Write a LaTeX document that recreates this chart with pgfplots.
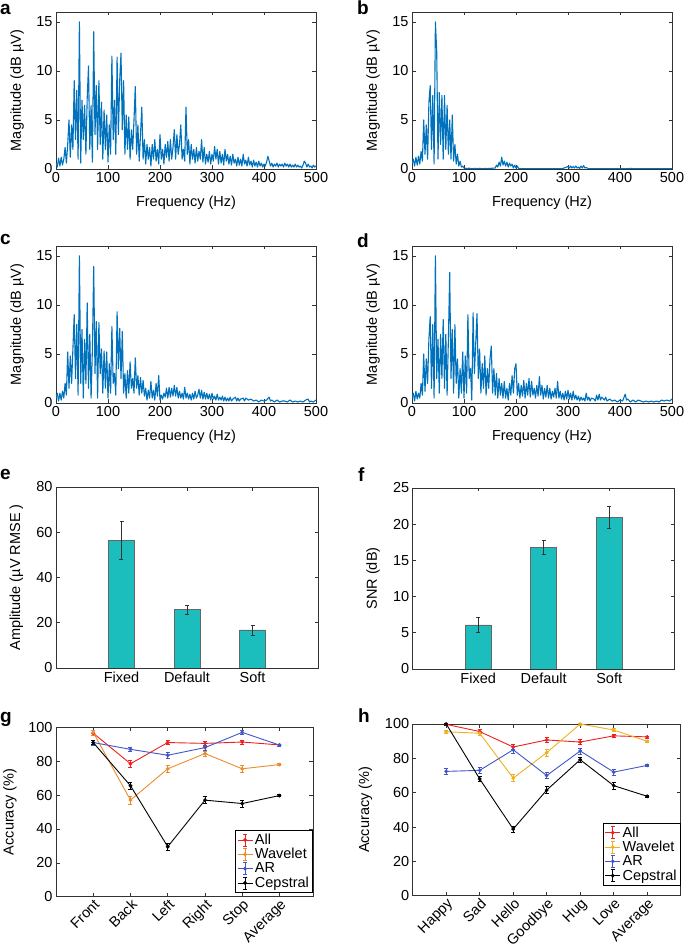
\documentclass[border=0pt]{standalone}
\usepackage{fontspec}
\setmainfont{Liberation Sans}
\usepackage{pgfplots}
\pgfplotsset{compat=1.18}

\definecolor{mblue}{RGB}{0,114,189}
\definecolor{barc}{RGB}{28,189,189}
\definecolor{cAll}{RGB}{240,30,30}
\definecolor{cWavG}{RGB}{236,140,45}
\definecolor{cWavH}{RGB}{237,177,32}
\definecolor{cAR}{RGB}{65,85,200}

\pgfplotsset{
  panel/.style={
    scale only axis,
    font=\fontsize{14.5}{16}\selectfont,
    axis line style={draw=black!80, line width=0.8pt},
    tick align=inside,
    major tick length=3.5pt,
    tick style={black!80, line width=0.6pt},
    /pgf/number format/assume math mode=true,
    ylabel style={anchor=center},
    xlabel style={anchor=center},
  },
  spec/.style={panel, width=260pt, height=157pt,
    xmin=0, xmax=500, ymin=0, ymax=16,
    xtick={0,100,...,500}, ytick={0,5,10,15},
    xlabel={Frequency (Hz)}, ylabel={Magnitude (dB µV)},
    xlabel style={at={(axis description cs:0.5,-0.217)}},
    ylabel style={at={(axis description cs:-0.15,0.5)}},
  },
  sline/.style={mblue, line width=1.1pt, line join=round, mark=none},
  bars/.style={panel, width=262pt, height=181pt,
    xmin=0, xmax=4, xtick={1,2,3}, xticklabels={Fixed,Default,Soft},
    ylabel style={at={(axis description cs:-0.151,0.5)}},
  },
  bplot/.style={ybar, bar width=26pt, fill=barc, draw=black!60, line width=0.6pt,
    error bars/.cd, y dir=both, y explicit,
    error bar style={black!80, line width=0.5pt},
    error mark options={rotate=90, mark size=2pt, black!80, line width=0.5pt}},
  acc/.style={panel, ymin=0, ymax=100, ytick={0,20,...,100},
    ylabel={Accuracy (\%)},
    xticklabel style={rotate=45, anchor=north east, inner sep=1pt},
    legend cell align=left,
    legend style={draw=black, line width=1.1pt, font=\fontsize{14.5}{15}\selectfont,
      inner sep=1.5pt, row sep=-1.5pt},
    legend image code/.code={
      \draw[##1, line width=0.8pt] (0pt,0pt) -- (15pt,0pt);
      \draw[##1, line width=0.8pt] (7.5pt,-6pt) -- (7.5pt,6pt)
        (5.5pt,-6pt) -- (9.5pt,-6pt) (5.5pt,6pt) -- (9.5pt,6pt);
      \fill[##1] (7.5pt,0pt) circle (1.4pt);
    },
  },
  lplot/.style={line width=0.9pt, mark=*, mark size=1.4pt,
    error bars/.cd, y dir=both, y explicit,
    error bar style={line width=0.6pt},
    error mark options={rotate=90, mark size=2pt, line width=0.6pt}},
}

\begin{document}
\begin{tikzpicture}
\useasboundingbox (0pt,0pt) rectangle (685pt,948pt);

% panel letters
\node[anchor=base west, inner sep=0pt, font=\bfseries\fontsize{19}{19}\selectfont] at (0pt,933pt) {a};
\node[anchor=base west, inner sep=0pt, font=\bfseries\fontsize{19}{19}\selectfont] at (357pt,933pt) {b};
\node[anchor=base west, inner sep=0pt, font=\bfseries\fontsize{19}{19}\selectfont] at (0pt,703pt) {c};
\node[anchor=base west, inner sep=0pt, font=\bfseries\fontsize{19}{19}\selectfont] at (357pt,700pt) {d};
\node[anchor=base west, inner sep=0pt, font=\bfseries\fontsize{19}{19}\selectfont] at (0pt,468pt) {e};
\node[anchor=base west, inner sep=0pt, font=\bfseries\fontsize{19}{19}\selectfont] at (358pt,466pt) {f};
\node[anchor=base west, inner sep=0pt, font=\bfseries\fontsize{19}{19}\selectfont] at (0pt,225pt) {g};
\node[anchor=base west, inner sep=0pt, font=\bfseries\fontsize{19}{19}\selectfont] at (358pt,225pt) {h};

% a
\begin{axis}[spec, at={(56pt,779pt)}, anchor=south west]
\addplot[sline] coordinates {
(0,0.6)(2.5,0.2)(5,1.1)(7.5,0.3)(10,1.2)(12.5,0.4)(15,1.0)(17.5,2.2)(20,0.6)(22.5,2.5)
(25,5.0)(27.5,1.2)(30,4.5)(32.5,2.0)(35,9.0)(37.5,3.0)(40,8.0)(42.5,1.0)(45,15.0)(47.5,0.6)
(50,7.0)(52.5,3.0)(55,6.5)(57.5,1.5)(60,7.2)(62.5,10.5)(65,2.0)(67.5,6.5)(70,0.7)(72.5,14.0)
(75,3.5)(77.5,8.5)(80,2.0)(82.5,9.0)(85,2.5)(87.5,6.8)(90,1.0)(92.5,6.0)(95,2.0)(97.5,5.5)
(100,0.7)(102.5,4.5)(105,1.5)(107.5,11.5)(110,3.0)(112.5,7.0)(115,1.5)(117.5,11.4)(120,3.5)(122.5,9.0)
(125,11.8)(127.5,4.0)(130,9.0)(132.5,1.5)(135,5.5)(137.5,2.0)(140,5.3)(142.5,1.0)(145,4.0)(147.5,2.0)
(150,5.0)(152.5,8.4)(155,1.5)(157.5,4.5)(160,0.8)(162.5,3.5)(165,6.3)(167.5,1.0)(170,3.0)(172.5,0.5)
(175,2.5)(177.5,1.0)(180,2.2)(182.5,0.3)(185,2.5)(187.5,1.0)(190,3.0)(192.5,0.8)(195,2.0)(197.5,0.5)
(200,3.5)(202.5,1.0)(205,2.0)(207.5,0.5)(210,2.5)(212.5,1.2)(215,2.8)(217.5,0.8)(220,3.0)(222.5,1.0)
(225,2.2)(227.5,4.0)(230,1.0)(232.5,3.5)(235,1.5)(237.5,2.5)(240,4.5)(242.5,1.0)(245,2.0)(247.5,0.8)
(250,6.3)(252.5,1.5)(255,3.0)(257.5,0.5)(260,2.5)(262.5,1.0)(265,2.0)(267.5,0.6)(270,2.2)(272.5,0.8)
(275,1.8)(277.5,1.0)(280,3.0)(282.5,0.7)(285,2.2)(287.5,0.5)(290,1.5)(292.5,0.7)(295,1.8)(297.5,0.5)
(300,1.5)(302.5,0.8)(305,2.3)(307.5,1.0)(310,2.0)(312.5,0.5)(315,1.8)(317.5,0.6)(320,1.5)(322.5,0.4)
(325,2.0)(327.5,0.8)(330,1.5)(332.5,0.5)(335,1.3)(337.5,0.4)(340,1.5)(342.5,0.6)(345,1.0)(347.5,0.3)
(350,1.2)(352.5,0.4)(355,1.0)(357.5,0.3)(360,1.5)(362.5,0.5)(365,0.9)(367.5,0.3)(370,1.2)(372.5,0.4)
(375,0.8)(377.5,0.2)(380,0.9)(382.5,0.3)(385,0.7)(387.5,0.2)(390,0.8)(392.5,0.3)(395,0.6)(397.5,0.2)
(400,0.5)(402.5,0.3)(405,0.7)(407.5,1.3)(410,0.8)(412.5,0.3)(415,0.6)(417.5,0.2)(420,0.5)(422.5,0.3)
(425,0.6)(427.5,0.2)(430,0.5)(432.5,0.3)(435,0.5)(437.5,0.2)(440,0.6)(442.5,0.3)(445,0.5)(447.5,0.2)
(450,0.5)(452.5,0.2)(455,0.4)(457.5,0.2)(460,0.5)(462.5,0.2)(465,0.4)(467.5,0.2)(470,0.3)(472.5,0.1)
(475,0.4)(477.5,0.8)(480,0.6)(482.5,0.2)(485,0.5)(487.5,0.2)(490,0.3)(492.5,0.1)(495,0.4)(497.5,0.2)(500,0.3)
};
\end{axis}

% b
\begin{axis}[spec, at={(412pt,779pt)}, anchor=south west]
\addplot[sline] coordinates {
(0,0.5)(2.5,1.0)(5,0.3)(7.5,1.2)(10,0.4)(12.5,1.3)(15,0.5)(17.5,1.8)(20,0.8)(22.5,5.0)
(25,1.5)(27.5,4.5)(30,1.0)(32.5,6.8)(35,8.5)(37.5,2.0)(40,7.5)(42.5,0.5)(45,15.0)(47.5,12.0)
(50,1.0)(52.5,7.8)(55,2.5)(57.5,7.5)(60,1.0)(62.5,7.5)(65,2.0)(67.5,6.5)(70,1.5)(72.5,5.0)
(75,1.0)(77.5,5.5)(80,0.8)(82.5,2.5)(85,0.5)(87.5,1.5)(90,0.3)(92.5,0.8)(95,0.2)(97.5,0.3)
(100,0.1)(105,0.05)(110,0.08)(115,0.03)(120,0.06)(125,0.04)(130,0.07)(135,0.03)(140,0.05)(145,0.04)
(150,0.06)(155,0.08)(160,0.1)(162.5,0.4)(165,0.2)(167.5,0.7)(170,0.3)(172.5,1.2)(175,0.4)(177.5,0.8)
(180,0.3)(182.5,0.7)(185,0.2)(187.5,0.6)(190,0.3)(192.5,0.5)(195,0.1)(197.5,0.4)(200,0.1)(202.5,0.3)
(205,0.05)(210,0.03)(220,0.02)(230,0.03)(240,0.02)(250,0.03)(260,0.02)(270,0.03)(280,0.02)(290,0.05)
(295,0.15)(300,0.25)(302.5,0.1)(305,0.3)(307.5,0.1)(310,0.25)(312.5,0.1)(315,0.3)(317.5,0.1)(320,0.2)
(322.5,0.05)(325,0.3)(327.5,0.1)(330,0.35)(332.5,0.1)(335,0.15)(340,0.03)(360,0.02)(380,0.03)(400,0.02)
(420,0.05)(440,0.02)(460,0.03)(480,0.02)(500,0.03)
};
\end{axis}

% c
\begin{axis}[spec, at={(56pt,545pt)}, anchor=south west]
\addplot[sline] coordinates {
(0,0.5)(2.5,1.0)(5,0.2)(7.5,1.0)(10,0.3)(12.5,1.2)(15,0.5)(17.5,2.0)(20,0.8)(22.5,5.2)
(25,1.5)(27.5,4.8)(30,2.0)(32.5,5.5)(35,9.0)(37.5,2.5)(40,8.0)(42.5,0.8)(45,15.0)(47.5,2.0)
(50,7.5)(52.5,0.5)(55,6.5)(57.5,2.0)(60,10.2)(62.5,1.5)(65,7.0)(67.5,0.5)(70,5.5)(72.5,13.9)
(75,3.0)(77.5,8.3)(80,0.5)(82.5,8.2)(85,3.0)(87.5,5.5)(90,1.0)(92.5,5.3)(95,1.5)(97.5,5.2)
(100,0.5)(102.5,4.0)(105,1.0)(107.5,7.8)(110,2.0)(112.5,3.0)(115,0.8)(117.5,9.3)(120,3.5)(122.5,7.6)
(125,2.5)(127.5,7.3)(130,1.0)(132.5,3.0)(135,0.5)(137.5,3.3)(140,1.0)(142.5,4.2)(145,1.5)(147.5,2.5)
(150,1.0)(152.5,4.6)(155,1.5)(157.5,2.8)(160,0.8)(162.5,2.6)(165,1.0)(167.5,2.3)(170,0.7)(172.5,1.5)
(175,0.3)(177.5,1.3)(180,0.5)(182.5,2.2)(185,0.5)(187.5,1.3)(190,0.3)(192.5,2.0)(195,0.7)(197.5,2.8)
(200,0.3)(202.5,0.8)(205,0.4)(207.5,1.0)(210,0.6)(212.5,1.5)(215,0.5)(217.5,1.6)(220,0.6)(222.5,1.5)
(225,0.7)(227.5,1.8)(230,0.7)(232.5,1.6)(235,0.5)(237.5,1.2)(240,0.5)(242.5,1.0)(245,0.4)(247.5,1.6)
(250,0.5)(252.5,1.0)(255,0.4)(257.5,0.9)(260,0.3)(262.5,1.0)(265,0.4)(267.5,1.2)(270,0.5)(272.5,0.8)
(275,1.4)(277.5,0.5)(280,1.3)(282.5,0.4)(285,1.1)(287.5,0.4)(290,1.0)(292.5,0.4)(295,0.9)(297.5,0.3)
(300,1.0)(302.5,0.4)(305,0.7)(307.5,0.3)(310,0.9)(312.5,0.3)(315,0.6)(317.5,0.3)(320,0.7)(322.5,0.2)
(325,0.6)(327.5,0.2)(330,0.5)(332.5,0.2)(335,0.6)(337.5,0.2)(340,0.4)(345,0.6)(347.5,0.2)(350,0.5)
(352.5,0.2)(355,0.4)(360,0.5)(362.5,0.2)(365,0.5)(370,0.3)(375,0.4)(380,0.2)(385,0.3)(390,0.1)
(395,0.3)(400,0.2)(405,0.3)(410,0.6)(412.5,0.2)(415,0.3)(420,0.1)(425,0.3)(430,0.1)(435,0.2)
(440,0.2)(445,0.1)(450,0.3)(455,0.1)(460,0.2)(465,0.1)(470,0.2)(475,0.1)(480,0.3)(485,0.4)
(487.5,0.1)(490,0.2)(495,0.1)(500,0.3)
};
\end{axis}

% d
\begin{axis}[spec, at={(412pt,545pt)}, anchor=south west]
\addplot[sline] coordinates {
(0,0.5)(2.5,1.0)(5,0.2)(7.5,1.2)(10,0.4)(12.5,1.0)(15,0.5)(17.5,2.0)(20,0.8)(22.5,5.0)
(25,1.2)(27.5,4.5)(30,2.0)(32.5,6.5)(35,8.8)(37.5,1.5)(40,8.0)(42.5,0.5)(45,15.0)(47.5,2.5)
(50,6.5)(52.5,1.0)(55,7.0)(57.5,2.5)(60,8.5)(62.5,1.5)(65,7.0)(67.5,0.8)(70,6.5)(72.5,13.3)
(75,2.5)(77.5,7.5)(80,1.0)(82.5,8.0)(85,2.0)(87.5,4.5)(90,0.5)(92.5,3.5)(95,1.0)(97.5,5.2)
(100,0.5)(102.5,4.8)(105,1.0)(107.5,9.0)(110,2.5)(112.5,3.5)(115,0.3)(117.5,9.2)(120,3.0)(122.5,6.0)
(125,9.1)(127.5,2.5)(130,5.5)(132.5,1.0)(135,4.0)(137.5,1.5)(140,4.8)(142.5,0.8)(145,3.5)(147.5,1.5)
(150,4.5)(152.5,5.8)(155,1.0)(157.5,3.5)(160,0.8)(162.5,3.0)(165,0.5)(167.5,2.5)(170,0.8)(172.5,2.0)
(175,0.5)(177.5,2.2)(180,0.5)(182.5,1.5)(185,0.3)(187.5,2.0)(190,0.8)(192.5,2.8)(195,1.0)(197.5,3.5)
(200,4.0)(202.5,0.8)(205,2.0)(207.5,0.5)(210,1.8)(212.5,0.7)(215,2.3)(217.5,0.5)(220,2.0)(222.5,0.8)
(225,2.5)(227.5,0.6)(230,2.2)(232.5,0.8)(235,1.5)(237.5,0.5)(240,1.8)(242.5,0.7)(245,2.7)(247.5,0.8)
(250,1.8)(252.5,0.4)(255,1.5)(257.5,0.6)(260,1.8)(262.5,0.5)(265,1.5)(267.5,0.4)(270,1.2)(272.5,0.6)
(275,1.5)(277.5,0.5)(280,2.2)(282.5,0.5)(285,1.2)(287.5,0.4)(290,1.0)(292.5,0.3)(295,1.2)(297.5,0.4)
(300,1.3)(302.5,0.4)(305,1.0)(307.5,0.3)(310,1.2)(312.5,0.4)(315,0.8)(317.5,0.3)(320,0.7)(322.5,0.2)
(325,0.6)(327.5,0.3)(330,0.5)(332.5,0.2)(335,1.0)(337.5,0.3)(340,0.6)(342.5,0.2)(345,0.5)(350,0.4)
(352.5,0.2)(355,0.8)(357.5,0.3)(360,0.9)(362.5,0.3)(365,0.6)(370,0.3)(372.5,0.6)(375,0.2)(380,0.4)
(385,0.2)(390,0.3)(395,0.1)(400,0.3)(405,0.2)(410,0.9)(412.5,0.3)(415,0.4)(420,0.1)(425,0.3)
(430,0.1)(435,0.3)(440,0.2)(445,0.1)(450,0.2)(455,0.1)(460,0.2)(465,0.1)(470,0.2)(475,0.1)
(480,0.3)(485,0.2)(490,0.3)(495,0.2)(500,0.4)
};
\end{axis}

% e
\begin{axis}[bars, at={(56pt,280pt)}, anchor=south west,
  ymin=0, ymax=80, ytick={0,20,...,80}, ylabel={Amplitude (µV RMSE )}]
\addplot[bplot] coordinates {(1,56.4) +- (0,8.3) (2,25.9) +- (0,2.0) (3,16.8) +- (0,2.3)};
\end{axis}

% f
\begin{axis}[bars, at={(412.7pt,279pt)}, anchor=south west,
  ymin=0, ymax=25, ytick={0,5,...,25}, ylabel={SNR (dB)}]
\addplot[bplot] coordinates {(1,6.1) +- (0,1.0) (2,16.8) +- (0,0.95) (3,20.95) +- (0,1.5)};
\end{axis}

% g
\begin{axis}[acc, at={(56pt,51.3pt)}, anchor=south west, width=257pt, height=169.4pt,
  xmin=0, xmax=6.9, xtick={1,...,6},
  xticklabels={Front,Back,Left,Right,Stop,Average},
  ylabel style={at={(axis description cs:-0.179,0.5)}},
  legend style={at={(axis description cs:1,0.022)}, anchor=south east}]
\addplot[cAll, lplot] coordinates {(1,96.5)+-(0,1.5) (2,78.5)+-(0,2) (3,91)+-(0,1.3) (4,90.5)+-(0,1.5) (5,91.3)+-(0,1.3) (6,89.6)+-(0,0.6)};
\addplot[cWavG, lplot] coordinates {(1,97)+-(0,1.5) (2,57)+-(0,2.2) (3,75.5)+-(0,2) (4,84.5)+-(0,1.5) (5,75.5)+-(0,2) (6,78)+-(0,0.6)};
\addplot[cAR, lplot] coordinates {(1,91)+-(0,1.5) (2,87)+-(0,1.3) (3,83.5)+-(0,1.8) (4,88)+-(0,1.5) (5,97)+-(0,1.2) (6,89.5)+-(0,0.6)};
\addplot[black, lplot] coordinates {(1,91)+-(0,1.3) (2,65.5)+-(0,2) (3,29.5)+-(0,2.2) (4,57)+-(0,2) (5,55)+-(0,2.2) (6,59.7)+-(0,0.6)};
\legend{All,Wavelet,AR,Cepstral}
\end{axis}

% h
\begin{axis}[acc, at={(412.7pt,52.3pt)}, anchor=south west, width=268pt, height=171.7pt,
  xmin=0, xmax=8, xtick={1,...,7},
  xticklabels={Happy,Sad,Hello,Goodbye,Hug,Love,Average},
  ylabel style={at={(axis description cs:-0.177,0.5)}},
  legend style={at={(axis description cs:1,0.058)}, anchor=south east}]
\addplot[cAll, lplot] coordinates {(1,99.8)+-(0,0.5) (2,95.6)+-(0,1.3) (3,86.6)+-(0,1.6) (4,90.7)+-(0,1.3) (5,89.5)+-(0,1.6) (6,93.1)+-(0,1) (7,92.5)+-(0,0.6)};
\addplot[cWavH, lplot] coordinates {(1,95.5)+-(0,0.8) (2,94.6)+-(0,1) (3,68.5)+-(0,2) (4,83.3)+-(0,2) (5,100)+-(0,0.5) (6,96.5)+-(0,0.8) (7,89.9)+-(0,0.6)};
\addplot[cAR, lplot] coordinates {(1,72.4)+-(0,1.6) (2,73)+-(0,1.8) (3,85)+-(0,1.8) (4,70)+-(0,1.8) (5,84.3)+-(0,1.8) (6,72)+-(0,1.8) (7,75.9)+-(0,0.6)};
\addplot[black, lplot] coordinates {(1,100)+-(0,0.5) (2,68)+-(0,1.5) (3,38.8)+-(0,1.8) (4,61.5)+-(0,2) (5,79.2)+-(0,1.5) (6,64.1)+-(0,2) (7,57.9)+-(0,0.6)};
\legend{All,Wavelet,AR,Cepstral}
\end{axis}
\end{tikzpicture}
\end{document}
